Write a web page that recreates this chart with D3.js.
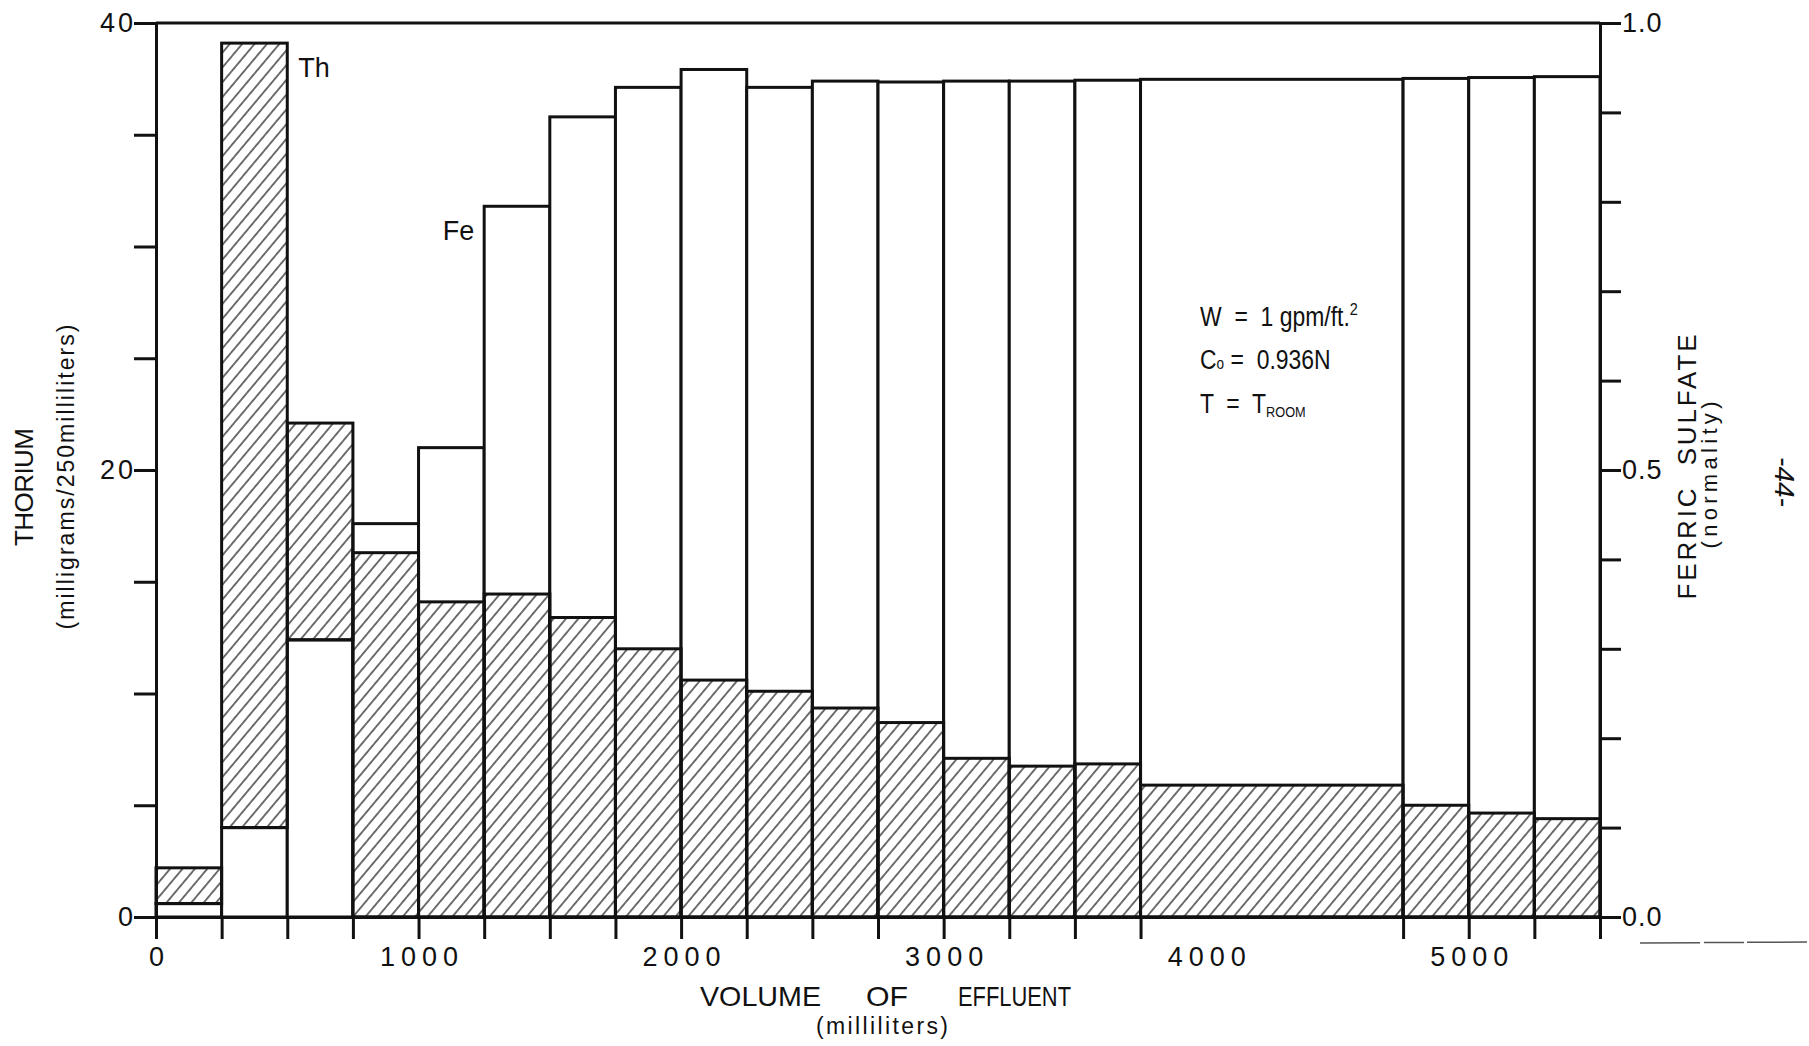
<!DOCTYPE html>
<html>
<head>
<meta charset="utf-8">
<script src="https://cdn.jsdelivr.net/npm/d3@7"></script>
<style>
  body { margin: 0; background: #fff; }
  text { font-family: "Liberation Sans", "DejaVu Sans", sans-serif; fill: #111; white-space: pre; }
</style>
</head>
<body>
<div id="chart"></div>
<script>
// bar edges along the effluent volume (ml)
var edges = [0, 250, 500, 750, 1000, 1250, 1500, 1750, 2000, 2250, 2500, 2750, 3000, 3250, 3500, 3750, 4750, 5000, 5250, 5500];
// thorium, mg / 250 ml (left axis, hatched)
var thorium = [2.2, 39.1, 22.1, 16.3, 14.1, 14.45, 13.4, 12.0, 10.6, 10.1, 9.35, 8.7, 7.1, 6.75, 6.85, 5.9, 5.0, 4.65, 4.4];
// ferric sulfate, normality (right axis, open bars)
var ferric = [0.015, 0.10, 0.31, 0.44, 0.525, 0.795, 0.895, 0.928, 0.948, 0.928, 0.935, 0.934, 0.935, 0.935, 0.936, 0.937, 0.938, 0.939, 0.94];

var xLabels = [0, 1000, 2000, 3000, 4000, 5000];
var thTicks = [0, 5, 10, 15, 20, 25, 30, 35, 40];
var thLabels = [0, 20, 40];
var feTicks = [0, 0.1, 0.2, 0.3, 0.4, 0.5, 0.6, 0.7, 0.8, 0.9, 1.0];
var feLabels = [0, 0.5, 1.0];

var width = 1809, height = 1046;
var margin = {top: 23, right: 209, bottom: 129, left: 156};
var ink = '#111';

var svg = d3.select('#chart')
  .append('svg')
  .attr('width', width)
  .attr('height', height);

var x = d3.scaleLinear().domain([0, 5500]).range([margin.left, width - margin.right]);
var yTh = d3.scaleLinear().domain([0, 40]).range([height - margin.bottom, margin.top]);
var yFe = d3.scaleLinear().domain([0, 1]).range([height - margin.bottom, margin.top]);

// diagonal hatching for the thorium bars
svg.append('defs')
  .append('pattern')
  .attr('id', 'hatch')
  .attr('patternUnits', 'userSpaceOnUse')
  .attr('width', 9.5)
  .attr('height', 9.5)
  .attr('patternTransform', 'rotate(40)')
  .append('line')
  .attr('x1', 4.75).attr('y1', 0)
  .attr('x2', 4.75).attr('y2', 9.5)
  .attr('stroke', ink)
  .attr('stroke-width', 1.2);

var bars = edges.slice(0, -1).map(function (e, i) {
  return {x0: e, x1: edges[i + 1], th: thorium[i], fe: ferric[i]};
});

// open ferric bars
svg.append('g')
  .selectAll('rect')
  .data(bars)
  .enter()
  .append('rect')
  .attr('x', function (d) { return x(d.x0); })
  .attr('width', function (d) { return x(d.x1) - x(d.x0); })
  .attr('y', function (d) { return yFe(d.fe); })
  .attr('height', function (d) { return yFe(0) - yFe(d.fe); })
  .attr('fill', '#fff')
  .attr('stroke', ink)
  .attr('stroke-width', 3);

// hatched thorium bars: when Th stands above Fe it sits on top of the Fe bar
svg.append('g')
  .selectAll('rect')
  .data(bars)
  .enter()
  .append('rect')
  .attr('x', function (d) { return x(d.x0); })
  .attr('width', function (d) { return x(d.x1) - x(d.x0); })
  .attr('y', function (d) { return yTh(d.th); })
  .attr('height', function (d) {
    var base = yTh(d.th) < yFe(d.fe) ? yFe(d.fe) : yFe(0);
    return base - yTh(d.th);
  })
  .attr('fill', 'url(#hatch)')
  .attr('stroke', ink)
  .attr('stroke-width', 3);

// frame top
svg.append('line')
  .attr('x1', x(0)).attr('x2', x(5500))
  .attr('y1', yTh(40)).attr('y2', yTh(40))
  .attr('stroke', ink)
  .attr('stroke-width', 3);

function styleAxis(spacing, dx) {
  return function (g) {
    g.select('.domain').attr('stroke', ink).attr('stroke-width', 3);
    g.selectAll('.tick line').attr('stroke', ink).attr('stroke-width', 3);
    g.selectAll('.tick text')
      .attr('fill', ink)
      .attr('dx', dx)
      .style('font-size', '27px')
      .style('letter-spacing', spacing + 'px')
      .style('font-family', '"Liberation Sans", "DejaVu Sans", sans-serif');
  };
}

svg.append('g')
  .attr('transform', 'translate(' + x(0) + ',0)')
  .call(d3.axisLeft(yTh)
    .tickValues(thTicks)
    .tickSize(22)
    .tickSizeOuter(0)
    .tickPadding(1)
    .tickFormat(function (d) { return thLabels.indexOf(d) >= 0 ? d : ''; }))
  .call(styleAxis(3, 3));

svg.append('g')
  .attr('transform', 'translate(' + x(5500) + ',0)')
  .call(d3.axisRight(yFe)
    .tickValues(feTicks)
    .tickSize(21)
    .tickSizeOuter(0)
    .tickPadding(1)
    .tickFormat(function (d) { return feLabels.indexOf(d) >= 0 ? d3.format('.1f')(d) : ''; }))
  .call(styleAxis(1, 0));

svg.append('g')
  .attr('transform', 'translate(0,' + yTh(0) + ')')
  .call(d3.axisBottom(x)
    .tickValues(edges)
    .tickSize(22)
    .tickSizeOuter(0)
    .tickFormat(''))
  .call(styleAxis(0, 0));

svg.append('g')
  .attr('transform', 'translate(0,' + yTh(0) + ')')
  .call(d3.axisBottom(x)
    .tickValues(xLabels)
    .tickSize(0)
    .tickPadding(30)
    .tickFormat(d3.format('d')))
  .call(styleAxis(6, 3))
  .call(function (g) { g.select('.domain').remove(); });

// series labels
svg.append('text')
  .attr('x', x(500) + 11)
  .attr('y', 77)
  .style('font-size', '27px')
  .text('Th');

svg.append('text')
  .attr('x', x(1250) - 10)
  .attr('y', 240)
  .attr('text-anchor', 'end')
  .style('font-size', '27px')
  .text('Fe');

// run conditions
var cond = svg.append('g')
  .attr('transform', 'translate(1200,0) scale(0.85,1)')
  .style('font-size', '27px');

var l1 = cond.append('text').attr('y', 326);
l1.append('tspan').text('W  =  1 gpm/ft.');
l1.append('tspan').attr('dy', -11).style('font-size', '17px').text('2');

var l2 = cond.append('text').attr('y', 369);
l2.append('tspan').text('C');
l2.append('tspan').style('font-size', '16px').text('o');
l2.append('tspan').text(' =  0.936N');

var l3 = cond.append('text').attr('y', 413);
l3.append('tspan').text('T  =  T');
l3.append('tspan').attr('dy', 4).style('font-size', '15px').text('ROOM');

// axis titles
svg.append('text')
  .attr('transform', 'translate(33,487) rotate(-90)')
  .attr('text-anchor', 'middle')
  .attr('textLength', 118)
  .style('font-size', '26px')
  .text('THORIUM');

svg.append('text')
  .attr('transform', 'translate(74,477) rotate(-90)')
  .attr('text-anchor', 'middle')
  .attr('textLength', 305)
  .style('font-size', '23px')
  .text('(milligrams/250milliliters)');

svg.append('text')
  .attr('transform', 'translate(1696,467) rotate(-90)')
  .attr('text-anchor', 'middle')
  .attr('textLength', 265)
  .style('font-size', '26px')
  .text('FERRIC  SULFATE');

svg.append('text')
  .attr('transform', 'translate(1717,475) rotate(-90)')
  .attr('text-anchor', 'middle')
  .attr('textLength', 147)
  .style('font-size', '22px')
  .text('(normality)');

var xTitle = [
  {word: 'VOLUME', x0: 700, len: 121},
  {word: 'OF', x0: 866, len: 42},
  {word: 'EFFLUENT', x0: 958, len: 113}
];
svg.append('g')
  .selectAll('text')
  .data(xTitle)
  .enter()
  .append('text')
  .attr('x', function (d) { return d.x0; })
  .attr('y', 1006)
  .attr('textLength', function (d) { return d.len; })
  .attr('lengthAdjust', 'spacingAndGlyphs')
  .style('font-size', '28px')
  .text(function (d) { return d.word; });

svg.append('text')
  .attr('x', 882)
  .attr('y', 1034)
  .attr('text-anchor', 'middle')
  .attr('textLength', 132)
  .style('font-size', '23px')
  .text('(milliliters)');

// page number, written sideways
svg.append('text')
  .attr('transform', 'translate(1775,482) rotate(90)')
  .attr('text-anchor', 'middle')
  .style('font-size', '28px')
  .style('font-style', 'italic')
  .text('-44-');

// stray rule at lower right of the sheet
svg.append('line')
  .attr('x1', 1640).attr('x2', 1809)
  .attr('y1', 943).attr('y2', 942)
  .attr('stroke', '#555')
  .attr('stroke-width', 1.5)
  .attr('stroke-dasharray', '60,4,40,3');
</script>
</body>
</html>
